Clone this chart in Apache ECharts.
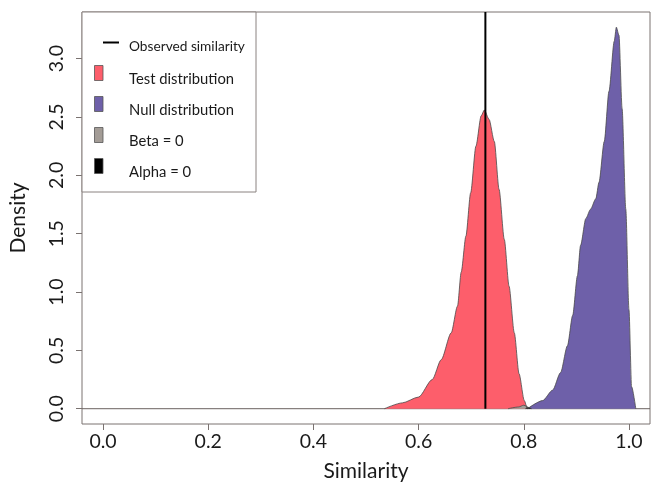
<!DOCTYPE html>
<html>
<head>
<meta charset="utf-8">
<script src="https://cdn.jsdelivr.net/npm/echarts@6/dist/echarts.min.js"></script>
<style>
html,body{margin:0;padding:0;background:#fff;}
#chart{width:653px;height:487px;}
</style>
</head>
<body>
<div id="chart"></div>
<script>
// ---- data ----
var xTicks = [0, 0.2, 0.4, 0.6, 0.8, 1.0];
var yTicks = [0, 0.5, 1.0, 1.5, 2.0, 2.5, 3.0];

var testX = [0.535, 0.569, 0.600, 0.626, 0.643, 0.662, 0.674, 0.681, 0.690, 0.699, 0.709, 0.719, 0.725, 0.734, 0.744, 0.753, 0.763, 0.772, 0.782, 0.791, 0.801, 0.806];
var testY = [0, 0.05, 0.10, 0.25, 0.42, 0.65, 0.88, 1.17, 1.48, 1.85, 2.25, 2.51, 2.56, 2.48, 2.29, 1.88, 1.45, 1.05, 0.65, 0.30, 0.07, 0];

var nullX = [0.807, 0.836, 0.855, 0.870, 0.883, 0.893, 0.902, 0.908, 0.918, 0.927, 0.937, 0.943, 0.953, 0.962, 0.972, 0.976, 0.981, 0.987, 0.994, 1.000, 1.005, 1.013];
var nullY = [0, 0.07, 0.16, 0.31, 0.54, 0.80, 1.14, 1.40, 1.63, 1.71, 1.80, 1.94, 2.29, 2.72, 3.15, 3.27, 3.20, 2.57, 1.71, 0.85, 0.19, 0];

var betaX = [0.770, 0.790, 0.800, 0.806, 0.810];
var betaY = [0, 0.015, 0.03, 0.02, 0];

var alphaX = [0.803, 0.808, 0.815];
var alphaY = [0, 0.012, 0];

var baselineX = [-0.04, 1.04];
var observedSimilarity = 0.727;
var observedTop = 3.40;

var legendLabels = ['Observed similarity', 'Test distribution', 'Null distribution', 'Beta = 0', 'Alpha = 0'];
var legendColors = ['#000000', '#FD5E6B', '#6E60A9', '#A39C96', '#000000'];

// ---- chart ----
function zip(xs, ys) { return xs.map(function (x, i) { return [x, ys[i]]; }); }

var FONT = 'Lato';
var AXIS = '#7a7270';
var TXT = '#1a1a1a';

function dens(name, xs, ys, color) {
  return {
    name: name, type: 'line', data: zip(xs, ys),
    smooth: 0.25, smoothMonotone: 'x', symbol: 'none',
    lineStyle: { color: '#4a4a4a', width: 0.8 },
    areaStyle: { color: color, opacity: 1, origin: 0 },
    silent: true, z: 3
  };
}

var chart = echarts.init(document.getElementById('chart'), null, { renderer: 'canvas' });

var legendGraphics = [{
  type: 'rect', shape: { x: 82, y: 12, width: 174, height: 180 },
  style: { fill: '#fff', stroke: '#8a8280', lineWidth: 1 }, z: 100
}];
var rowsY = [47, 79, 110, 141, 172];
legendLabels.forEach(function (lab, i) {
  if (i === 0) {
    legendGraphics.push({ type: 'line', shape: { x1: 103, y1: 42.5, x2: 119, y2: 42.5 },
      style: { stroke: '#000', lineWidth: 2 }, z: 101 });
  } else {
    legendGraphics.push({ type: 'rect', shape: { x: 94.5, y: rowsY[i] - 13.5, width: 8.5, height: 15 },
      style: { fill: legendColors[i], stroke: '#555', lineWidth: 0.8 }, z: 101 });
  }
  legendGraphics.push({ type: 'text', x: 129, y: rowsY[i],
    style: { text: lab, fill: TXT, font: (i === 0 ? '13.7px ' : '14.8px ') + FONT, textVerticalAlign: 'middle', textAlign: 'left' }, z: 101 });
});

chart.setOption({
  animation: false,
  backgroundColor: '#fff',
  grid: { left: 82, right: 3, top: 12, bottom: 63, show: true, borderColor: AXIS, borderWidth: 1, backgroundColor: 'transparent' },
  xAxis: {
    type: 'value', min: -0.04, max: 1.04,
    name: 'Similarity', nameLocation: 'middle', nameGap: 37,
    nameTextStyle: { fontFamily: FONT, fontSize: 21, color: TXT },
    axisLine: { show: false, onZero: false },
    axisTick: { show: true, customValues: xTicks, length: 6, lineStyle: { color: AXIS } },
    axisLabel: { customValues: xTicks, formatter: function (v) { return v.toFixed(1); },
      fontFamily: FONT, fontSize: 19.5, color: TXT, margin: 8 },
    splitLine: { show: false }
  },
  yAxis: {
    type: 'value', min: -0.131, max: 3.40,
    name: 'Density', nameLocation: 'middle', nameGap: 53, nameRotate: 90,
    nameTextStyle: { fontFamily: FONT, fontSize: 21, color: TXT },
    axisLine: { show: false, onZero: false },
    axisTick: { show: true, customValues: yTicks, length: 6, lineStyle: { color: AXIS } },
    axisLabel: { customValues: yTicks, formatter: function (v) { return v.toFixed(1); },
      rotate: 90, fontFamily: FONT, fontSize: 19.5, color: TXT, margin: 15 },
    splitLine: { show: false }
  },
  series: [
    { name: 'baseline', type: 'line', data: zip(baselineX, [0, 0]), symbol: 'none',
      lineStyle: { color: '#6b6260', width: 1 }, silent: true, z: 2 },
    dens('Test distribution', testX, testY, legendColors[1]),
    dens('Null distribution', nullX, nullY, legendColors[2]),
    dens('Beta = 0', betaX, betaY, legendColors[3]),
    dens('Alpha = 0', alphaX, alphaY, legendColors[4]),
    { name: 'Observed similarity', type: 'line', data: [[observedSimilarity, 0], [observedSimilarity, observedTop]],
      symbol: 'none', lineStyle: { color: '#000', width: 2 }, silent: true, z: 5 }
  ],
  graphic: legendGraphics
});
</script>
</body>
</html>
